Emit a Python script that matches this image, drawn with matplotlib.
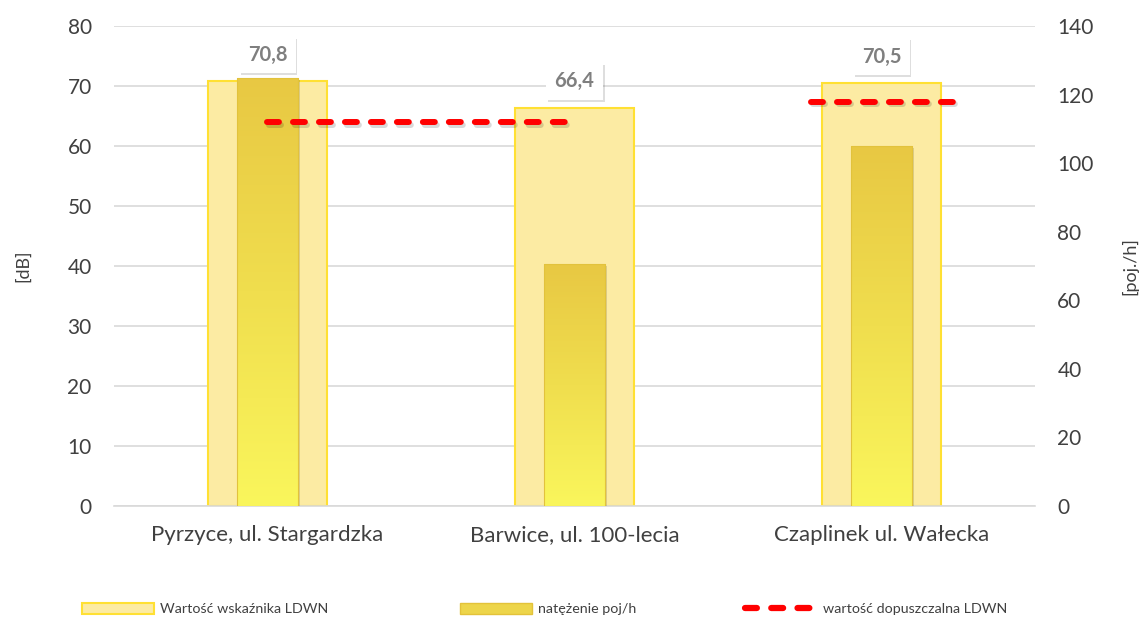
import matplotlib
matplotlib.use("Agg")
import matplotlib.pyplot as plt
import numpy as np
from matplotlib.patches import Rectangle
from matplotlib.lines import Line2D
from matplotlib.colors import LinearSegmentedColormap
import matplotlib.patheffects as pe

categories = ["Pyrzyce, ul. Stargardzka", "Barwice, ul. 100-lecia", "Czaplinek ul. Wałecka"]
ldwn = [70.8, 66.4, 70.5]
traffic = [125, 70.5, 105]
limit_first = [64, 64]
limit_third = [67.4]
labels = ["70,8", "66,4", "70,5"]
legend_labels = ["Wartość wskaźnika LDWN", "natężenie poj/h", "wartość dopuszczalna LDWN"]

plt.rcParams['font.family'] = ['Lato', 'DejaVu Sans']
TXT = '#404040'

fig = plt.figure(figsize=(11.45, 6.22), dpi=100)
ax = fig.add_axes([0.0995, 0.1865, 0.8045, 0.7715])
ax2 = ax.twinx()

x = np.arange(len(categories))
ax.set_xlim(-0.5, 2.5)
ax.set_ylim(0, 80)
ax2.set_ylim(0, 140)
ax.set_yticks(range(0, 81, 10))
ax2.set_yticks(range(0, 141, 20))

ax.grid(axis='y', color='#D9D9D9', linewidth=1.2, zorder=0)
ax.set_axisbelow(True)
for a in (ax, ax2):
    for s in a.spines.values():
        s.set_visible(False)
    a.tick_params(length=0, labelsize=15, colors=TXT)
ax.tick_params(axis='y', pad=16)
ax2.tick_params(axis='y', pad=16)
ax.spines['bottom'].set_visible(True)
ax.spines['bottom'].set_color('#D9D9D9')
ax.spines['bottom'].set_linewidth(1.2)
ax.set_xticks(x)
ax.set_xticklabels(categories, fontsize=16)
ax.tick_params(axis='x', pad=14)

ax.set_ylabel("[dB]", fontsize=13, color=TXT, labelpad=26)
ax2.set_ylabel("[poj./h]", fontsize=13, color=TXT, labelpad=20)

# wide bars
ax.bar(x, ldwn, width=0.385, color='#FCEBA3', edgecolor='#FFE033', linewidth=1.5, zorder=2)

# inner gradient bars on secondary axis
cmap = LinearSegmentedColormap.from_list('g', ['#FAF65C', '#F0DE4E', '#E8C843'])
grad = np.linspace(0, 1, 256).reshape(-1, 1)
ibars = ax2.bar(x, traffic, width=0.2, color='#EED84C', edgecolor='none', zorder=2,
                path_effects=[pe.SimplePatchShadow(offset=(1.5, -1.5), alpha=0.18), pe.Normal()])
for b in ibars:
    x0, w, h = b.get_x(), b.get_width(), b.get_height()
    im = ax2.imshow(grad, extent=[x0, x0 + w, 0, h], origin='lower', cmap=cmap,
                    aspect='auto', zorder=2.5)
    im.set_clip_path(b)
ax2.bar(x, traffic, width=0.2, color='none', edgecolor='#E2C23C', linewidth=0.8, zorder=2.6)
ax2.set_xlim(-0.5, 2.5)

# permissible lines (values in dB, mapped to secondary scale for drawing order)
shadow = [pe.SimpleLineShadow(offset=(1.2, -1.8), alpha=0.15), pe.Normal()]
ax2.plot([x[0], x[1]], [v * 140 / 80 for v in limit_first], color='#FF0000', lw=4.3,
         dashes=(2.0, 2.35), dash_capstyle='round', solid_capstyle='round', zorder=5,
         path_effects=shadow)
ax2.plot([x[2] - 0.23, x[2] + 0.25], [limit_third[0] * 140 / 80] * 2, color='#FF0000', lw=4.3,
         dashes=(2.0, 2.35), dash_capstyle='round', zorder=5, path_effects=shadow)

# data labels
for xi, v, lab in zip(x, ldwn, labels):
    ax2.annotate(lab, (xi, v * 140 / 80), xytext=(0, 19), textcoords='offset points',
                 ha='center', va='center', fontsize=14.5, fontweight='bold', color='#7F7F7F',
                 zorder=6,
                 bbox=dict(boxstyle='square,pad=0.42', fc='white', ec='none',
                           path_effects=[pe.SimplePatchShadow(offset=(1.2, -1.5), alpha=0.18),
                                         pe.Normal()]))

# legend
h1 = Rectangle((0, 0), 1, 1, fc='#FCEBA3', ec='#FFE033', lw=1.5)
h2 = Rectangle((0, 0), 1, 1, fc='#EDD54A', ec='#E3C23A', lw=1.0)
h3 = Line2D([], [], color='#FF0000', lw=4.5, dashes=(1.9, 2.3), dash_capstyle='round')
legend_x = [82, 460, 745]
for hx, h, lab in zip(legend_x, [h1, h2, h3], legend_labels):
    leg = fig.legend([h], [lab], loc='center left', bbox_to_anchor=(hx / 1145, 1 - 609 / 622),
                     frameon=False, fontsize=10.3, handlelength=5.0, handleheight=0.9,
                     handletextpad=0.45, borderpad=0, borderaxespad=0, labelcolor=TXT)

fig.savefig("out.png", dpi=100)
